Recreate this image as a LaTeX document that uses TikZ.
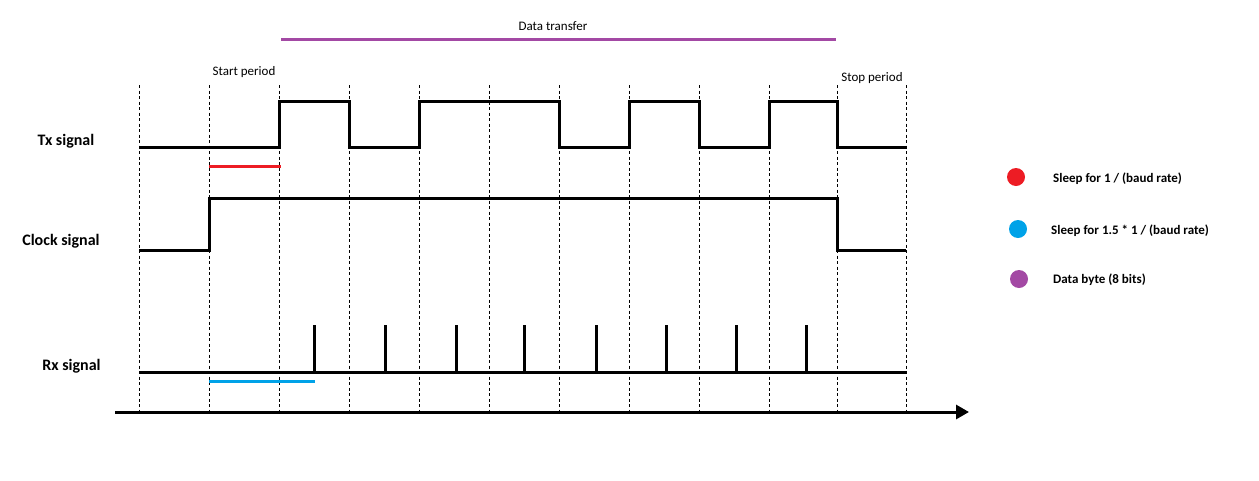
\documentclass[tikz,border=0pt]{standalone}
\usepackage{fontspec}
\setmainfont{Carlito}
\usetikzlibrary{arrows.meta,positioning}
\definecolor{paintred}{RGB}{237,28,36}
\definecolor{paintblue}{RGB}{0,162,232}
\definecolor{paintpurple}{RGB}{163,73,164}

\begin{document}
\begin{tikzpicture}[x=1pt, y=-1pt, >={Triangle[length=13pt,width=14pt]},
  sig/.style={line width=3pt, line join=miter},
  gridline/.style={line width=0.8pt, dash pattern=on 3pt off 2.5pt},
  mark line/.style={line width=3pt},
  lbl/.style={font=\fontsize{16}{19}\selectfont\bfseries, inner sep=0pt},
  note/.style={font=\fontsize{13}{16}\selectfont, inner sep=0pt},
  key/.style={font=\fontsize{13}{16}\selectfont\bfseries, anchor=west, inner sep=0pt},
  dot/.style={circle, minimum size=18pt, inner sep=0pt}]
\useasboundingbox (0,0) rectangle (1259,480);
% bit boundaries
\foreach \x in {139,209,279,349,419,489,559,629,699,769,837,906}
  \draw[gridline] (\x,85) -- (\x,410);
% time axis
\coordinate (t0) at (115,412);
\coordinate (t1) at (969,412);
\draw[line width=3pt, ->] (t0) -- (t1);
% signal names
\node[lbl] (tx) at (66,141) {Tx signal};
\node[lbl] (clk) at (61,241) {Clock signal};
\node[lbl] (rx) at (71.5,366) {Rx signal};
% periods
\node[note] (data) at (553,26.5) {Data transfer};
\node[note] (start) at (244,72) {Start period};
\node[note] (stop) at (872,78) {Stop period};
% Tx
\draw[sig] (139,147) -- (279,147) -- (279,101) -- (349,101) -- (349,147) -- (419,147)
  -- (419,101) -- (559,101) -- (559,147) -- (629,147) -- (629,101) -- (699,101)
  -- (699,147) -- (769,147) -- (769,101) -- (837,101) -- (837,147) -- (906,147);
% Clock
\draw[sig] (139,250) -- (209,250) -- (209,198) -- (837,198) -- (837,250) -- (906,250);
% Rx
\draw[sig] (139,372) -- (906,372);
\foreach \x in {314,385,456,524,596,666,736,806}
  \draw[sig] (\x,372) -- (\x,325);
% sleep / byte markers
\draw[mark line, paintred] (209,166) -- (281,166);
\draw[mark line, paintblue] (209,381) -- (315,381);
\draw[mark line, paintpurple] (281,39) -- (836,39);
% legend
\node[dot, fill=paintred] (kred) at (1016,177) {};
\node[dot, fill=paintblue] (kblue) at (1018,229) {};
\node[dot, fill=paintpurple] (kpurple) at (1019,279) {};
\node[key] (t1k) at (1053,179) {Sleep for 1 / (baud rate)};
\node[key] (t2k) at (1051,231) {Sleep for 1.5 * 1 / (baud rate)};
\node[key] (t3k) at (1053,280) {Data byte (8 bits)};
\end{tikzpicture}
\end{document}
